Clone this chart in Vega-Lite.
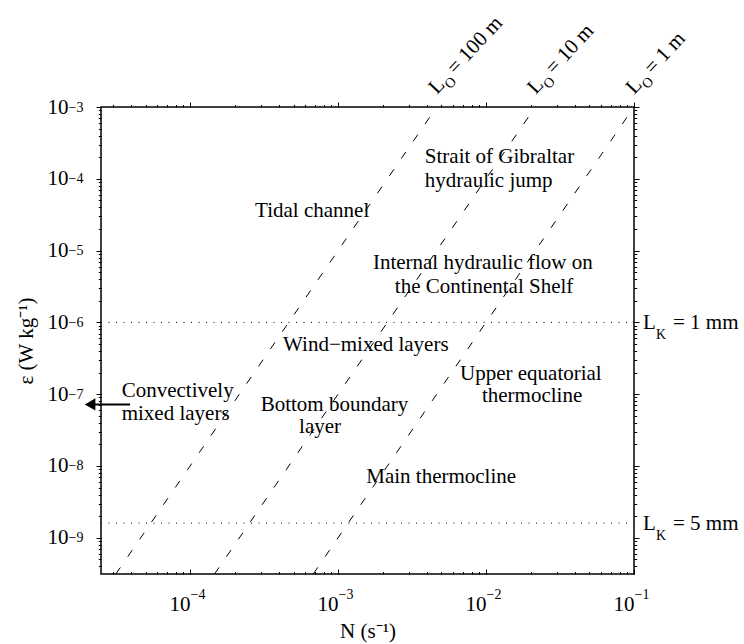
{
  "$schema": "https://vega.github.io/schema/vega-lite/v6.json",
  "autosize": {"type": "none"},
  "padding": {"left": 101, "top": 107, "right": 110, "bottom": 70},
  "width": 533,
  "height": 467,
  "config": {
    "view": {"stroke": "#000", "strokeWidth": 1.5},
    "font": "Liberation Serif",
    "axis": {
      "domain": false,
      "grid": false,
      "tickColor": "#000",
      "tickWidth": 1,
      "labelColor": "#000",
      "labelFont": "Liberation Serif",
      "titleFont": "Liberation Serif",
      "titleFontWeight": "normal",
      "titleColor": "#000",
      "titleFontSize": 21,
      "labelOverlap": false,
      "labelFlush": false,
      "labelBound": false
    }
  },
  "datasets": {
    "ozmidov": [
      {"L": "100 m", "N": 3.15e-5, "eps": 3.13e-10},
      {"L": "100 m", "N": 4.642e-3, "eps": 1e-3},
      {"L": "10 m", "N": 1.463e-4, "eps": 3.13e-10},
      {"L": "10 m", "N": 2.154e-2, "eps": 1e-3},
      {"L": "1 m", "N": 6.79e-4, "eps": 3.13e-10},
      {"L": "1 m", "N": 0.1, "eps": 1e-3}
    ],
    "kolmogorov": [
      {"L": "1 mm", "N": 2.5e-5, "eps": 1e-6},
      {"L": "1 mm", "N": 0.1, "eps": 1e-6},
      {"L": "5 mm", "N": 2.5e-5, "eps": 1.6e-9},
      {"L": "5 mm", "N": 0.1, "eps": 1.6e-9}
    ],
    "regimes": [
      {"text": "Strait of Gibraltar", "N": 3.86e-3, "eps": 1.64e-4},
      {"text": "hydraulic jump", "N": 3.86e-3, "eps": 7.76e-5},
      {"text": "Tidal channel", "N": 2.75e-4, "eps": 2.96e-5},
      {"text": "Internal hydraulic flow on", "N": 1.72e-3, "eps": 5.5e-6},
      {"text": "the Continental Shelf", "N": 2.42e-3, "eps": 2.54e-6},
      {"text": "Wind−mixed layers", "N": 4.25e-4, "eps": 4.04e-7},
      {"text": "Upper equatorial", "N": 6.67e-3, "eps": 1.58e-7},
      {"text": "thermocline", "N": 9.38e-3, "eps": 7.87e-8},
      {"text": "Convectively", "N": 3.45e-5, "eps": 9.06e-8},
      {"text": "mixed layers", "N": 3.45e-5, "eps": 4.38e-8},
      {"text": "Bottom boundary", "N": 3.0e-4, "eps": 5.89e-8},
      {"text": "layer", "N": 5.45e-4, "eps": 2.88e-8},
      {"text": "Main thermocline", "N": 1.55e-3, "eps": 5.74e-9}
    ],
    "ozLabels": [
      {"main": "L", "sub": "O", "rest": "= 100 m", "N": 4.642e-3, "eps": 1e-3},
      {"main": "L", "sub": "O", "rest": "= 10 m", "N": 2.154e-2, "eps": 1e-3},
      {"main": "L", "sub": "O", "rest": "= 1 m", "N": 0.1, "eps": 1e-3}
    ],
    "kLabels": [
      {"main": "L", "sub": "K", "rest": "= 1 mm", "N": 0.1, "eps": 1e-6},
      {"main": "L", "sub": "K", "rest": "= 5 mm", "N": 0.1, "eps": 1.6e-9}
    ],
    "arrow": [
      {"N": 3.93e-5, "eps": 7.2e-8},
      {"N": 2.11e-5, "eps": 7.2e-8}
    ],
    "arrowHead": [
      {"N": 2.11e-5, "eps": 7.2e-8}
    ]
  },
  "resolve": {"axis": {"x": "independent", "y": "independent"}},
  "layer": [
    {
      "data": {"name": "ozmidov"},
      "mark": {"type": "line", "color": "#000", "strokeWidth": 1, "strokeDash": [8, 13]},
      "encoding": {
        "x": {
          "field": "N", "type": "quantitative",
          "scale": {"type": "log", "domain": [2.5e-5, 0.1], "nice": false},
          "axis": {
            "orient": "bottom", "values": [1e-4, 1e-3, 1e-2, 1e-1],
            "offset": -5, "tickSize": 5,
            "labelExpr": "'10'", "labelAlign": "right", "labelBaseline": "alphabetic",
            "labelPadding": 36, "labelFontSize": 21,
            "title": "N (s⁻¹)", "titlePadding": 6
          }
        },
        "y": {
          "field": "eps", "type": "quantitative",
          "scale": {"type": "log", "domain": [3.13e-10, 1e-3], "nice": false},
          "axis": {
            "orient": "left", "values": [1e-9, 1e-8, 1e-7, 1e-6, 1e-5, 1e-4, 1e-3],
            "tickSize": 5,
            "labelExpr": "'10'", "labelAlign": "right", "labelBaseline": "middle",
            "labelPadding": 28, "labelFontSize": 21,
            "title": "ε (W kg⁻¹)", "titlePadding": 11
          }
        },
        "detail": {"field": "L"}
      }
    },
    {
      "data": {"name": "kolmogorov"},
      "mark": {"type": "line", "color": "#000", "strokeWidth": 1, "strokeDash": [1, 6.5]},
      "encoding": {
        "x": {
          "field": "N", "type": "quantitative",
          "scale": {"type": "log", "domain": [2.5e-5, 0.1], "nice": false},
          "axis": {
            "orient": "bottom",
            "values": [3e-5, 4e-5, 5e-5, 6e-5, 7e-5, 8e-5, 9e-5, 1e-4, 2e-4, 3e-4, 4e-4, 5e-4, 6e-4, 7e-4, 8e-4, 9e-4, 1e-3, 2e-3, 3e-3, 4e-3, 5e-3, 6e-3, 7e-3, 8e-3, 9e-3, 1e-2, 2e-2, 3e-2, 4e-2, 5e-2, 6e-2, 7e-2, 8e-2, 9e-2, 1e-1],
            "offset": -2.5, "tickSize": 2.5,
            "labelExpr": "abs(log(datum.value)/LN10 - round(log(datum.value)/LN10)) < 0.001 ? '−' + round(-log(datum.value)/LN10) : ''",
            "labelAlign": "left", "labelBaseline": "alphabetic", "labelDx": 1,
            "labelPadding": 24, "labelFontSize": 14,
            "title": null
          }
        },
        "y": {
          "field": "eps", "type": "quantitative",
          "scale": {"type": "log", "domain": [3.13e-10, 1e-3], "nice": false},
          "axis": {
            "orient": "left",
            "values": [4e-10, 5e-10, 6e-10, 7e-10, 8e-10, 9e-10, 1e-9, 2e-9, 3e-9, 4e-9, 5e-9, 6e-9, 7e-9, 8e-9, 9e-9, 1e-8, 2e-8, 3e-8, 4e-8, 5e-8, 6e-8, 7e-8, 8e-8, 9e-8, 1e-7, 2e-7, 3e-7, 4e-7, 5e-7, 6e-7, 7e-7, 8e-7, 9e-7, 1e-6, 2e-6, 3e-6, 4e-6, 5e-6, 6e-6, 7e-6, 8e-6, 9e-6, 1e-5, 2e-5, 3e-5, 4e-5, 5e-5, 6e-5, 7e-5, 8e-5, 9e-5, 1e-4, 2e-4, 3e-4, 4e-4, 5e-4, 6e-4, 7e-4, 8e-4, 9e-4, 1e-3],
            "tickSize": 2.7,
            "labelExpr": "abs(log(datum.value)/LN10 - round(log(datum.value)/LN10)) < 0.001 ? '−' + round(-log(datum.value)/LN10) : ''",
            "labelAlign": "right", "labelBaseline": "middle", "labelDy": -10,
            "labelPadding": 15.3, "labelFontSize": 14,
            "title": null
          }
        },
        "detail": {"field": "L"}
      }
    },
    {
      "data": {"name": "regimes"},
      "mark": {"type": "text", "align": "left", "baseline": "alphabetic", "fontSize": 21, "font": "Liberation Serif", "color": "#000"},
      "encoding": {
        "x": {
          "field": "N", "type": "quantitative",
          "scale": {"type": "log", "domain": [2.5e-5, 0.1], "nice": false},
          "axis": {
            "orient": "top", "values": [1e-4, 1e-3, 1e-2, 1e-1],
            "tickSize": 5, "labels": false, "title": null
          }
        },
        "y": {
          "field": "eps", "type": "quantitative",
          "scale": {"type": "log", "domain": [3.13e-10, 1e-3], "nice": false},
          "axis": {
            "orient": "right", "values": [1e-9, 1e-8, 1e-7, 1e-6, 1e-5, 1e-4, 1e-3],
            "tickSize": 5, "labels": false, "title": null
          }
        },
        "text": {"field": "text"}
      }
    },
    {
      "data": {"name": "ozLabels"},
      "mark": {"type": "text", "align": "left", "baseline": "alphabetic", "fontSize": 21, "font": "Liberation Serif", "color": "#000", "angle": -47, "dx": 9, "dy": -8},
      "encoding": {
        "x": {
          "field": "N", "type": "quantitative",
          "scale": {"type": "log", "domain": [2.5e-5, 0.1], "nice": false},
          "axis": {
            "orient": "top",
            "values": [3e-5, 4e-5, 5e-5, 6e-5, 7e-5, 8e-5, 9e-5, 1e-4, 2e-4, 3e-4, 4e-4, 5e-4, 6e-4, 7e-4, 8e-4, 9e-4, 1e-3, 2e-3, 3e-3, 4e-3, 5e-3, 6e-3, 7e-3, 8e-3, 9e-3, 1e-2, 2e-2, 3e-2, 4e-2, 5e-2, 6e-2, 7e-2, 8e-2, 9e-2, 1e-1],
            "tickSize": 2.5, "labels": false, "title": null
          }
        },
        "y": {
          "field": "eps", "type": "quantitative",
          "scale": {"type": "log", "domain": [3.13e-10, 1e-3], "nice": false},
          "axis": {
            "orient": "right",
            "values": [4e-10, 5e-10, 6e-10, 7e-10, 8e-10, 9e-10, 1e-9, 2e-9, 3e-9, 4e-9, 5e-9, 6e-9, 7e-9, 8e-9, 9e-9, 1e-8, 2e-8, 3e-8, 4e-8, 5e-8, 6e-8, 7e-8, 8e-8, 9e-8, 1e-7, 2e-7, 3e-7, 4e-7, 5e-7, 6e-7, 7e-7, 8e-7, 9e-7, 1e-6, 2e-6, 3e-6, 4e-6, 5e-6, 6e-6, 7e-6, 8e-6, 9e-6, 1e-5, 2e-5, 3e-5, 4e-5, 5e-5, 6e-5, 7e-5, 8e-5, 9e-5, 1e-4, 2e-4, 3e-4, 4e-4, 5e-4, 6e-4, 7e-4, 8e-4, 9e-4, 1e-3],
            "tickSize": 2.7, "labels": false, "title": null
          }
        },
        "text": {"field": "main"}
      }
    },
    {
      "data": {"name": "ozLabels"},
      "mark": {"type": "text", "align": "left", "baseline": "alphabetic", "fontSize": 14, "font": "Liberation Serif", "color": "#000", "angle": -47, "dx": 22, "dy": -2},
      "encoding": {
        "x": {"field": "N", "type": "quantitative", "scale": {"type": "log", "domain": [2.5e-5, 0.1], "nice": false}, "axis": null},
        "y": {"field": "eps", "type": "quantitative", "scale": {"type": "log", "domain": [3.13e-10, 1e-3], "nice": false}, "axis": null},
        "text": {"field": "sub"}
      }
    },
    {
      "data": {"name": "ozLabels"},
      "mark": {"type": "text", "align": "left", "baseline": "alphabetic", "fontSize": 21, "font": "Liberation Serif", "color": "#000", "angle": -47, "dx": 36, "dy": -8},
      "encoding": {
        "x": {"field": "N", "type": "quantitative", "scale": {"type": "log", "domain": [2.5e-5, 0.1], "nice": false}, "axis": null},
        "y": {"field": "eps", "type": "quantitative", "scale": {"type": "log", "domain": [3.13e-10, 1e-3], "nice": false}, "axis": null},
        "text": {"field": "rest"}
      }
    },
    {
      "data": {"name": "kLabels"},
      "mark": {"type": "text", "align": "left", "baseline": "alphabetic", "fontSize": 21, "font": "Liberation Serif", "color": "#000", "dx": 9, "dy": 7},
      "encoding": {
        "x": {"field": "N", "type": "quantitative", "scale": {"type": "log", "domain": [2.5e-5, 0.1], "nice": false}, "axis": null},
        "y": {"field": "eps", "type": "quantitative", "scale": {"type": "log", "domain": [3.13e-10, 1e-3], "nice": false}, "axis": null},
        "text": {"field": "main"}
      }
    },
    {
      "data": {"name": "kLabels"},
      "mark": {"type": "text", "align": "left", "baseline": "alphabetic", "fontSize": 14, "font": "Liberation Serif", "color": "#000", "dx": 22, "dy": 17},
      "encoding": {
        "x": {"field": "N", "type": "quantitative", "scale": {"type": "log", "domain": [2.5e-5, 0.1], "nice": false}, "axis": null},
        "y": {"field": "eps", "type": "quantitative", "scale": {"type": "log", "domain": [3.13e-10, 1e-3], "nice": false}, "axis": null},
        "text": {"field": "sub"}
      }
    },
    {
      "data": {"name": "kLabels"},
      "mark": {"type": "text", "align": "left", "baseline": "alphabetic", "fontSize": 21, "font": "Liberation Serif", "color": "#000", "dx": 39, "dy": 7},
      "encoding": {
        "x": {"field": "N", "type": "quantitative", "scale": {"type": "log", "domain": [2.5e-5, 0.1], "nice": false}, "axis": null},
        "y": {"field": "eps", "type": "quantitative", "scale": {"type": "log", "domain": [3.13e-10, 1e-3], "nice": false}, "axis": null},
        "text": {"field": "rest"}
      }
    },
    {
      "data": {"name": "arrow"},
      "mark": {"type": "line", "color": "#000", "strokeWidth": 2},
      "encoding": {
        "x": {"field": "N", "type": "quantitative", "scale": {"type": "log", "domain": [2.5e-5, 0.1], "nice": false}, "axis": null},
        "y": {"field": "eps", "type": "quantitative", "scale": {"type": "log", "domain": [3.13e-10, 1e-3], "nice": false}, "axis": null}
      }
    },
    {
      "data": {"name": "arrowHead"},
      "mark": {"type": "point", "shape": "triangle-left", "filled": true, "color": "#000", "size": 150, "opacity": 1},
      "encoding": {
        "x": {"field": "N", "type": "quantitative", "scale": {"type": "log", "domain": [2.5e-5, 0.1], "nice": false}, "axis": null},
        "y": {"field": "eps", "type": "quantitative", "scale": {"type": "log", "domain": [3.13e-10, 1e-3], "nice": false}, "axis": null}
      }
    }
  ]
}
